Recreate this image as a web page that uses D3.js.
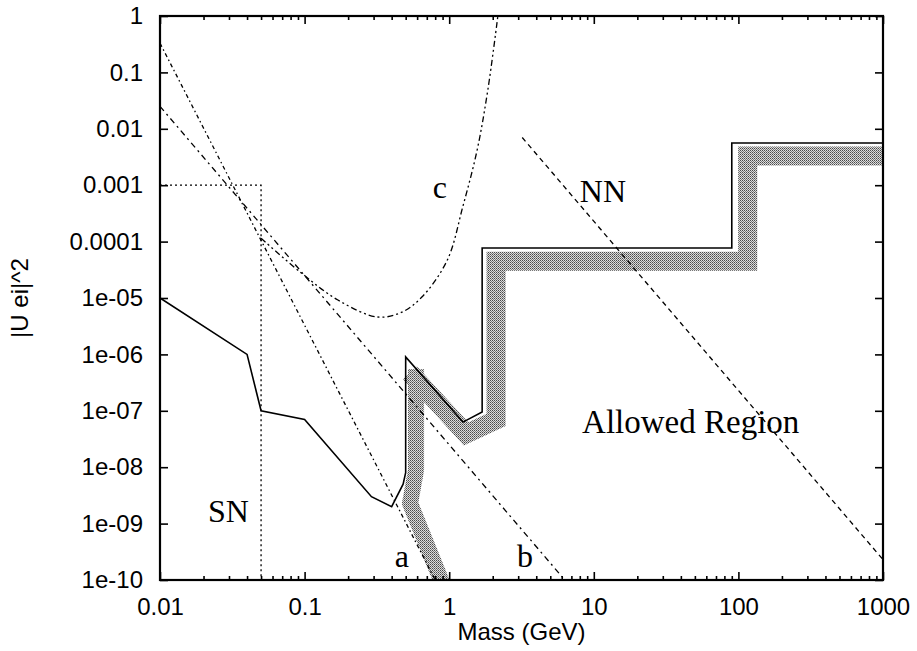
<!DOCTYPE html>
<html>
<head>
<meta charset="utf-8">
<script src="https://cdn.jsdelivr.net/npm/d3@7"></script>
<style>
  body { margin: 0; background: #fff; }
</style>
</head>
<body>
<script>
// tick labels
const xTickValues = [0.01, 0.1, 1, 10, 100, 1000];
const xTickLabels = ['0.01', '0.1', '1', '10', '100', '1000'];
const yTickValues = [1e-10, 1e-9, 1e-8, 1e-7, 1e-6, 1e-5, 1e-4, 1e-3, 1e-2, 0.1, 1];
const yTickLabels = ['1e-10', '1e-09', '1e-08', '1e-07', '1e-06', '1e-05', '0.0001', '0.001', '0.01', '0.1', '1'];

// solid boundary line [mass, |U|^2]
const boundaryMass = [0.01, 0.04, 0.05, 0.1, 0.29, 0.4, 0.48, 0.5, 0.5, 1.245, 1.69, 1.69, 90, 90, 1000];
const boundaryU = [1e-5, 1e-6, 1e-7, 7e-8, 3e-9, 2e-9, 5e-9, 8e-9, 9e-7, 6.3e-8, 9.5e-8, 7.7e-5, 7.7e-5, 5.6e-3, 5.6e-3];

// shaded band (upper part, follows the boundary)
const bandUpperMass = [0.536, 1.31, 2.11, 2.11, 116, 116, 1100];
const bandUpperU = [4.7e-7, 3.9e-8, 6.9e-8, 4.5e-5, 4.5e-5, 3.3e-3, 3.3e-3];
// shaded band (lower branch, down to the axis)
const bandLowerMass = [0.59, 0.59, 0.536, 0.877, 0.95];
const bandLowerU = [5.5e-7, 8.9e-9, 2.3e-9, 1e-10, 4e-11];

// line a
const lineAMass = [0.01, 0.8];
const lineAU = [0.33, 1e-10];
// line b
const lineBMass = [0.01, 6.3];
const lineBU = [0.025, 1e-10];
// curve c
const curveCMass = [0.05, 0.093, 0.17, 0.32, 0.47, 0.65, 0.97, 1.24, 1.56, 1.85, 2.17];
const curveCU = [1.15e-4, 2.9e-5, 9.2e-6, 4.6e-6, 5.6e-6, 1.05e-5, 4.7e-5, 4.1e-4, 4.2e-3, 0.049, 1];
// NN line
const lineNNMass = [3.2, 1000];
const lineNNU = [7e-3, 2.3e-10];
// SN box
const snMass = [0.01, 0.05, 0.05];
const snU = [1e-3, 1e-3, 1e-10];

// labels
const labels = [
  { text: 'SN', m: 0.0215, u: 1.07e-9, size: 32 },
  { text: 'NN', m: 8.0, u: 5e-4, size: 32 },
  { text: 'c', m: 0.77, u: 5.9e-4, size: 32 },
  { text: 'a', m: 0.42, u: 1.7e-10, size: 32 },
  { text: 'b', m: 2.94, u: 1.7e-10, size: 32 },
  { text: 'Allowed Region', m: 8.3, u: 4.0e-8, size: 33 }
];

const svgWidth = 917;
const svgHeight = 651;
const margin = { top: 16, right: 34, bottom: 71, left: 160 };
const width = svgWidth - margin.left - margin.right;
const height = svgHeight - margin.top - margin.bottom;

const svg = d3.select('body')
  .append('svg')
  .attr('width', svgWidth)
  .attr('height', svgHeight)
  .append('g')
  .attr('transform', `translate(${margin.left}, ${margin.top})`);

const x = d3.scaleLog().domain([0.01, 1000]).range([0, width]);
const y = d3.scaleLog().domain([1e-10, 1]).range([height, 0]);

const zip = (ms, us) => ms.map((m, i) => [m, us[i]]);
const line = d3.line().x(d => x(d[0])).y(d => y(d[1]));

// dither pattern for the band
const defs = svg.append('defs');
const pat = defs.append('pattern')
  .attr('id', 'dither')
  .attr('width', 2).attr('height', 2)
  .attr('patternUnits', 'userSpaceOnUse');
pat.append('rect').attr('width', 2).attr('height', 2).attr('fill', '#dcdcdc');
pat.append('rect').attr('width', 1).attr('height', 1).attr('fill', '#4a4a4a');
pat.append('rect').attr('x', 1).attr('y', 1).attr('width', 1).attr('height', 1).attr('fill', '#7a7a7a');

defs.append('clipPath').attr('id', 'plot-clip')
  .append('rect').attr('width', width).attr('height', height);

const plot = svg.append('g').attr('clip-path', 'url(#plot-clip)');

plot.append('path')
  .attr('d', line(zip(bandUpperMass, bandUpperU)))
  .attr('fill', 'none')
  .attr('stroke', 'url(#dither)')
  .attr('stroke-width', 19)
  .attr('stroke-linejoin', 'miter');

plot.append('path')
  .attr('d', line(zip(bandLowerMass, bandLowerU)))
  .attr('fill', 'none')
  .attr('stroke', 'url(#dither)')
  .attr('stroke-width', 16)
  .attr('stroke-linejoin', 'round');

const curves = [
  { data: zip(snMass, snU), dash: '2,3', w: 1.3 },
  { data: zip(lineAMass, lineAU), dash: '4,3,1.5,3', w: 1.3 },
  { data: zip(lineBMass, lineBU), dash: '6,4,2,4', w: 1.3 },
  { data: zip(curveCMass, curveCU), dash: '6,3,2,3,2,3', w: 1.3 },
  { data: zip(lineNNMass, lineNNU), dash: '5,4', w: 1.3 }
];

curves.forEach(c => {
  const gen = d3.line().x(d => x(d[0])).y(d => y(d[1]))
    .curve(c.data.length > 3 ? d3.curveCatmullRom : d3.curveLinear);
  plot.append('path')
    .attr('d', gen(c.data))
    .attr('fill', 'none')
    .attr('stroke', '#000')
    .attr('stroke-width', c.w)
    .attr('stroke-dasharray', c.dash);
});

plot.append('path')
  .attr('d', line(zip(boundaryMass, boundaryU)))
  .attr('fill', 'none')
  .attr('stroke', '#000')
  .attr('stroke-width', 1.6)
  .attr('stroke-linejoin', 'miter');

// axes
const xMinor = [];
for (let d = 0.01; d < 1000; d *= 10) {
  for (let k = 2; k <= 9; k++) xMinor.push(+(d * k).toPrecision(3));
}

const styleAxis = g => {
  g.select('.domain').remove();
  g.selectAll('line').attr('stroke', '#000').attr('stroke-width', 1.6);
  g.selectAll('text')
    .attr('fill', '#000')
    .style('font-family', '"Liberation Sans", Arial, Helvetica, sans-serif')
    .style('font-size', '24px');
};

svg.append('g')
  .attr('transform', `translate(0, ${height})`)
  .call(d3.axisBottom(x).tickValues(xTickValues)
    .tickFormat((d, i) => xTickLabels[i]).tickSizeInner(-8).tickSizeOuter(0).tickPadding(18))
  .call(styleAxis);

svg.append('g')
  .attr('transform', `translate(0, ${height})`)
  .call(d3.axisBottom(x).tickValues(xMinor).tickFormat('').tickSizeInner(-4).tickSizeOuter(0))
  .call(styleAxis);

svg.append('g')
  .call(d3.axisTop(x).tickValues(xTickValues).tickFormat('').tickSizeInner(-8).tickSizeOuter(0))
  .call(styleAxis);

svg.append('g')
  .call(d3.axisTop(x).tickValues(xMinor).tickFormat('').tickSizeInner(-4).tickSizeOuter(0))
  .call(styleAxis);

svg.append('g')
  .call(d3.axisLeft(y).tickValues(yTickValues)
    .tickFormat((d, i) => yTickLabels[i]).tickSizeInner(-8).tickSizeOuter(0).tickPadding(17))
  .call(styleAxis);

svg.append('g')
  .attr('transform', `translate(${width}, 0)`)
  .call(d3.axisRight(y).tickValues(yTickValues).tickFormat('').tickSizeInner(-8).tickSizeOuter(0))
  .call(styleAxis);

svg.append('rect')
  .attr('width', width)
  .attr('height', height)
  .attr('fill', 'none')
  .attr('stroke', '#000')
  .attr('stroke-width', 2.2);

// axis titles
svg.append('text')
  .attr('x', width / 2)
  .attr('y', height + 60)
  .attr('text-anchor', 'middle')
  .style('font-family', '"Liberation Sans", Arial, Helvetica, sans-serif')
  .style('font-size', '24px')
  .text('Mass (GeV)');

svg.append('text')
  .attr('transform', `translate(${-132}, ${height / 2}) rotate(-90)`)
  .attr('text-anchor', 'middle')
  .style('font-family', '"Liberation Sans", Arial, Helvetica, sans-serif')
  .style('font-size', '24px')
  .text('|U ei|^2');

// region labels
svg.selectAll('.region-label')
  .data(labels)
  .enter()
  .append('text')
  .attr('class', 'region-label')
  .attr('x', d => x(d.m))
  .attr('y', d => y(d.u))
  .style('font-family', '"Liberation Serif", "Times New Roman", serif')
  .style('font-size', d => `${d.size}px`)
  .text(d => d.text);
</script>
</body>
</html>
